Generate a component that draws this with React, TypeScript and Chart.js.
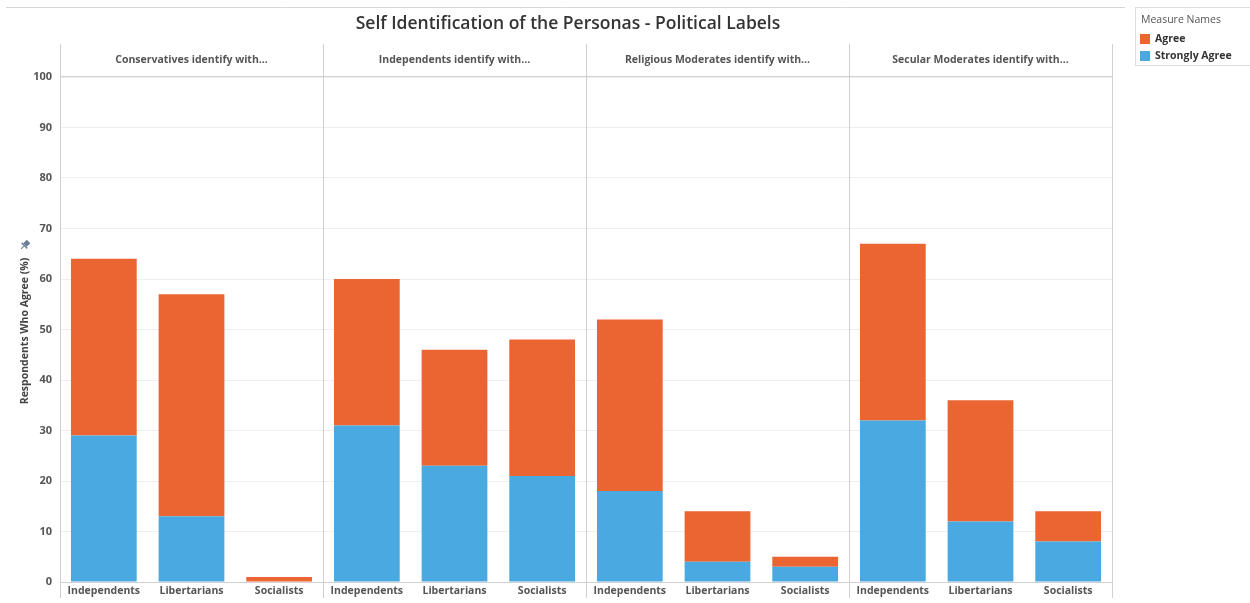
import React, { useEffect, useRef } from "react";
import { Chart, registerables } from "chart.js";

Chart.register(...registerables);

const panels = [
  "Conservatives identify with...",
  "Independents identify with...",
  "Religious Moderates identify with...",
  "Secular Moderates identify with...",
];
const groups = ["Independents", "Libertarians", "Socialists"];
const stronglyAgree = [29, 13, 0, 31, 23, 21, 18, 4, 3, 32, 12, 8];
const agree = [35, 44, 1, 29, 23, 27, 34, 10, 2, 35, 24, 6];
const yTicks = [0, 10, 20, 30, 40, 50, 60, 70, 80, 90, 100];

const ORANGE = "#EA6531";
const BLUE = "#4AA9E1";
const FONT = "'Open Sans', 'Lato', sans-serif";

const framePlugin = {
  id: "frame",
  afterDraw(chart: any) {
    const ctx = chart.ctx;
    const { left, right, top, bottom } = chart.chartArea;
    const pw = (right - left) / panels.length;
    ctx.save();
    // top page line
    ctx.strokeStyle = "#d6d6d6";
    ctx.lineWidth = 1;
    ctx.beginPath();
    ctx.moveTo(6, 7.5);
    ctx.lineTo(1125, 7.5);
    ctx.stroke();
    // title
    ctx.fillStyle = "#333333";
    ctx.font = `600 17.5px ${FONT}`;
    ctx.textAlign = "center";
    ctx.textBaseline = "middle";
    ctx.fillText("Self Identification of the Personas - Political Labels", 568, 24);
    // header bottom line
    ctx.strokeStyle = "#d0d0d0";
    ctx.beginPath();
    ctx.moveTo(left, Math.round(top) - 0.5);
    ctx.lineTo(right, Math.round(top) - 0.5);
    ctx.stroke();
    // panel separators
    for (let p = 0; p <= panels.length; p++) {
      const x = Math.round(left + p * pw) + 0.5;
      ctx.beginPath();
      ctx.moveTo(x, 44);
      ctx.lineTo(x, p === 0 || p === panels.length ? bottom + 16 : 598);
      ctx.stroke();
    }
    // panel headers
    ctx.fillStyle = "#555555";
    ctx.font = `bold 10.5px ${FONT}`;
    panels.forEach((name, i) => {
      ctx.fillText(name, left + pw * (i + 0.5), 60);
    });
    // y title
    ctx.save();
    ctx.translate(25, 331);
    ctx.rotate(-Math.PI / 2);
    ctx.font = `bold 10.5px ${FONT}`;
    ctx.fillStyle = "#444444";
    ctx.fillText("Respondents Who Agree (%)", 0, 0);
    ctx.restore();
    // pin icon
    ctx.save();
    ctx.translate(25, 245);
    ctx.rotate(Math.PI / 4);
    ctx.fillStyle = "#6b7f99";
    ctx.fillRect(-2.5, -5, 5, 5);
    ctx.fillRect(-4, 0, 8, 1.5);
    ctx.fillRect(-0.5, 1.5, 1, 4);
    ctx.restore();
    // legend
    ctx.strokeStyle = "#dddddd";
    ctx.strokeRect(1135.5, 7.5, 120, 58);
    ctx.textAlign = "left";
    ctx.fillStyle = "#555555";
    ctx.font = `10.5px ${FONT}`;
    ctx.fillText("Measure Names", 1141, 20);
    ctx.fillStyle = ORANGE;
    ctx.fillRect(1140, 34, 10, 10);
    ctx.fillStyle = BLUE;
    ctx.fillRect(1140, 51, 10, 10);
    ctx.fillStyle = "#333333";
    ctx.font = `bold 10.5px ${FONT}`;
    ctx.fillText("Agree", 1155, 39.5);
    ctx.fillText("Strongly Agree", 1155, 56.5);
    ctx.restore();
  },
};

export default function App() {
  const ref = useRef<HTMLCanvasElement | null>(null);
  useEffect(() => {
    if (!ref.current) return;
    const labels = panels.flatMap(() => groups);
    const chart = new Chart(ref.current, {
      type: "bar",
      data: {
        labels,
        datasets: [
          {
            label: "Strongly Agree",
            data: stronglyAgree,
            backgroundColor: BLUE,
            barPercentage: 0.75,
            categoryPercentage: 1,
          },
          {
            label: "Agree",
            data: agree,
            backgroundColor: ORANGE,
            barPercentage: 0.75,
            categoryPercentage: 1,
          },
        ],
      },
      options: {
        animation: false,
        responsive: true,
        maintainAspectRatio: false,
        layout: { padding: { left: 0, top: 77, right: 138, bottom: 5 } },
        plugins: {
          legend: { display: false },
          tooltip: { enabled: false },
          title: { display: false },
        },
        scales: {
          x: {
            stacked: true,
            grid: { display: false, drawTicks: false },
            border: { display: true, color: "#d0d0d0" },
            ticks: {
              color: "#555555",
              font: { family: FONT, size: 10.5, weight: "bold" },
              padding: 3,
              maxRotation: 0,
              autoSkip: false,
            },
            afterFit(scale: any) {
              scale.height = 16;
            },
          },
          y: {
            stacked: true,
            min: 0,
            max: 100,
            afterBuildTicks(scale: any) {
              scale.ticks = yTicks.map((v) => ({ value: v }));
            },
            grid: { color: "#efefef", drawTicks: false },
            border: { display: true, color: "#d0d0d0" },
            ticks: {
              color: "#555555",
              font: { family: FONT, size: 11, weight: "bold" },
              padding: 8,
            },
            afterFit(scale: any) {
              scale.width = 60;
            },
          },
        },
      },
      plugins: [framePlugin],
    });
    return () => chart.destroy();
  }, []);
  return (
    <div style={{ position: "fixed", left: 0, top: 0, width: 1250, height: 603, background: "#fff" }}>
      <canvas ref={ref} />
    </div>
  );
}
